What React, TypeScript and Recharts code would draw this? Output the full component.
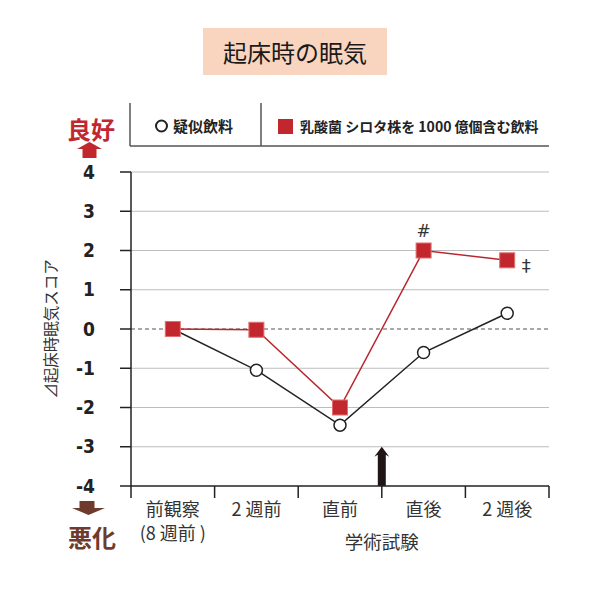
import React from 'react';
import { LineChart, Line, XAxis, YAxis, CartesianGrid, ReferenceLine, LabelList } from 'recharts';

const categories = ['前観察', '2 週前', '直前', '直後', '2 週後'];
const categorySubLabels = ['(8 週前 )', '', '', '', ''];
const placeboScores = [0, -1.05, -2.45, -0.6, 0.4];
const shirotaScores = [0, -0.02, -2.0, 2.0, 1.75];
const shirotaNotes = ['', '', '', '#', '‡'];
const yTicks = [-4, -3, -2, -1, 0, 1, 2, 3, 4];
const gridValues = [-3, -2, -1, 1, 2, 3, 4];
const examBoundary = 3;
const examLabel = '学術試験';
const titleText = '起床時の眠気';
const yAxisTitle = '⊿起床時眠気スコア';
const placeboName = '疑似飲料';
const shirotaName = '乳酸菌 シロタ株を 1000 億個含む飲料';
const goodLabel = '良好';
const badLabel = '悪化';

const JP = '"Noto Sans CJK JP", "Noto Sans", sans-serif';
const NUM = '"DejaVu Sans Condensed", "Liberation Sans Narrow", "Roboto", sans-serif';
const RED = '#c1272d';
const BROWN = '#6e3b2c';
const INK = '#222';

const data = categories.map((name, i) => ({
  x: i + 0.5,
  name,
  placebo: placeboScores[i],
  shirota: shirotaScores[i],
  note: shirotaNotes[i],
}));

const xTicks = Array.from({ length: categories.length * 2 + 1 }, (_, i) => i / 2);

const XTick = (props: any) => {
  const { x, y, payload } = props;
  const v = payload.value as number;
  if (Number.isInteger(v)) {
    return (
      <g>
        <line x1={x} y1={y} x2={x} y2={y + 12} stroke={INK} strokeWidth={1.5} />
        {v === examBoundary && (
          <text x={x} y={y + 63} textAnchor="middle" fontFamily={JP} fontSize={18.5} fill="#333">
            {examLabel}
          </text>
        )}
      </g>
    );
  }
  const i = Math.floor(v);
  return (
    <g>
      <text x={x} y={y + 30} textAnchor="middle" fontFamily={JP} fontSize={18} fill="#333">
        {categories[i]}
      </text>
      {categorySubLabels[i] && (
        <text x={x} y={y + 54} textAnchor="middle" fontFamily={JP} fontSize={18} fill="#333">
          {categorySubLabels[i]}
        </text>
      )}
    </g>
  );
};

const SquareDot = (props: any) => {
  const { cx, cy } = props;
  if (cx == null || cy == null) return null;
  return <rect x={cx - 7.5} y={cy - 7.5} width={15} height={15} fill={RED} stroke="#e07070" strokeWidth={1} />;
};

const NoteLabel = (props: any) => {
  const { x, y, value } = props;
  if (!value) return null;
  if (value === '#') {
    return (
      <text x={x} y={y - 14} textAnchor="middle" fontFamily='"DejaVu Sans", sans-serif' fontSize={17} fill="#333">
        {value}
      </text>
    );
  }
  return (
    <text x={x + 19} y={y + 12} textAnchor="middle" fontFamily='"DejaVu Sans", sans-serif' fontSize={18} fill="#333">
      {value}
    </text>
  );
};

const ExamArrow = (props: any) => {
  const { x1, y1, y2 } = props;
  const top = Math.min(y1, y2);
  const bottom = Math.max(y1, y2);
  const x = x1;
  const pts = [
    [x, top],
    [x + 7.5, top + 10],
    [x + 4, top + 8],
    [x + 4, bottom],
    [x - 4, bottom],
    [x - 4, top + 8],
    [x - 7.5, top + 10],
  ]
    .map((p) => p.join(','))
    .join(' ');
  return <polygon points={pts} fill="#211616" />;
};

const YTitle = (props: any) => {
  const { viewBox } = props;
  const cx = viewBox.x - 21;
  const cy = viewBox.y + viewBox.height / 2;
  return (
    <text
      x={cx}
      y={cy}
      textAnchor="middle"
      dominantBaseline="central"
      transform={`rotate(-90 ${cx} ${cy})`}
      fontFamily={JP}
      fontSize={15.5}
      fill="#333"
    >
      {yAxisTitle}
    </text>
  );
};

export default function App() {
  return (
    <div style={{ position: 'absolute', left: 0, top: 0, width: 590, height: 590, background: '#fff' }}>
      <LineChart width={590} height={590} data={data} margin={{ top: 172, right: 41, bottom: 44, left: 71 }}>
        <CartesianGrid horizontal vertical={false} horizontalValues={gridValues} stroke="#bdbdbd" strokeWidth={1.2} />
        <XAxis
          dataKey="x"
          type="number"
          domain={[0, categories.length]}
          ticks={xTicks}
          interval={0}
          tickSize={0}
          tickMargin={0}
          tickLine={false}
          tick={<XTick />}
          height={60}
          axisLine={{ stroke: INK, strokeWidth: 1.5 }}
          allowDataOverflow
        />
        <YAxis
          type="number"
          domain={[-4, 4]}
          ticks={yTicks}
          interval={0}
          width={60}
          tickSize={11}
          tickMargin={25}
          axisLine={{ stroke: INK, strokeWidth: 1.5 }}
          tickLine={{ stroke: INK, strokeWidth: 1.5 }}
          tick={{ fontFamily: NUM, fontSize: 19, fontWeight: 700, fill: INK }}
          label={<YTitle />}
        />
        <ReferenceLine y={0} stroke="#555" strokeWidth={1.2} strokeDasharray="4 3" />
        <ReferenceLine
          segment={[
            { x: examBoundary, y: -4 },
            { x: examBoundary, y: -3 },
          ]}
          shape={<ExamArrow />}
        />
        <Line
          dataKey="placebo"
          stroke={INK}
          strokeWidth={1.5}
          isAnimationActive={false}
          dot={{ r: 6, fill: '#fff', stroke: INK, strokeWidth: 1.5 }}
          activeDot={false}
        />
        <Line
          dataKey="shirota"
          stroke="#b8272d"
          strokeWidth={1.5}
          isAnimationActive={false}
          dot={<SquareDot />}
          activeDot={false}
        >
          <LabelList dataKey="note" content={<NoteLabel />} />
        </Line>
      </LineChart>

      <div
        style={{
          position: 'absolute',
          left: 203,
          top: 28,
          width: 184,
          height: 47,
          background: '#f9d5c0',
          display: 'flex',
          alignItems: 'center',
          justifyContent: 'center',
          fontFamily: JP,
          fontSize: 24,
          color: '#1a1a1a',
        }}
      >
        {titleText}
      </div>

      <svg
        width={590}
        height={590}
        style={{ position: 'absolute', left: 0, top: 0, pointerEvents: 'none' }}
      >
        <line x1={130} y1={103} x2={130} y2={146} stroke="#555" strokeWidth={1.5} />
        <line x1={261} y1={103} x2={261} y2={146} stroke="#555" strokeWidth={1.5} />
        <line x1={130} y1={146} x2={549} y2={146} stroke="#555" strokeWidth={1.5} />
        <circle cx={161.5} cy={126} r={5.5} fill="#fff" stroke={INK} strokeWidth={2} />
        <text x={173} y={132} fontFamily={JP} fontSize={15} fontWeight={700} fill={INK}>
          {placeboName}
        </text>
        <rect x={278} y={119} width={15} height={15} fill={RED} />
        <text x={300} y={132} fontFamily={JP} fontSize={14} fontWeight={700} fill={INK}>
          {shirotaName}
        </text>

        <text x={91} y={139} textAnchor="middle" fontFamily={JP} fontSize={24} fontWeight={700} fill={RED}>
          {goodLabel}
        </text>
        <polygon points="89.5,142 102,149 77,149" fill={RED} />
        <rect x={82.5} y={148.5} width={14} height={9.5} fill={RED} />

        <rect x={79.5} y={501} width={15} height={7.5} fill={BROWN} />
        <polygon points="72,508 105,508 88.5,515" fill={BROWN} />
        <text x={92} y={547} textAnchor="middle" fontFamily={JP} fontSize={24} fontWeight={700} fill={BROWN}>
          {badLabel}
        </text>
      </svg>
    </div>
  );
}
